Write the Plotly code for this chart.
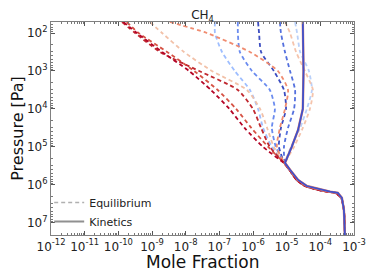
import plotly.graph_objects as go

# ---------------- data ----------------
# log10 pressure [Pa] of the upper (diverging) part of each equilibrium profile
log_p_upper = [1.71, 2.0, 2.5, 3.0, 3.5, 4.0, 4.5, 5.0, 5.45]
# shared deep part (all profiles converge)
log_p_lower = [5.6, 5.87, 6.03, 6.1, 6.18, 6.21, 6.34, 6.66, 7.32]
log_x_eq_lower = [-4.92, -4.70, -4.45, -4.20, -3.80, -3.55, -3.38, -3.30, -3.27]

# equilibrium CH4 mole fraction profiles (log10), upper part
eq_dark_red   = [-9.85, -9.45, -8.70, -7.90, -7.25, -6.70, -6.25, -5.70, -5.05]
eq_red2       = [-9.89, -9.50, -8.76, -7.60, -6.45, -6.00, -5.76, -5.50, -5.05]
eq_red        = [-9.75, -9.40, -8.55, -7.75, -7.05, -6.50, -6.05, -5.55, -5.05]
eq_salmon_l   = [-9.06, -8.70, -8.05, -7.22, -6.18, -5.79, -5.58, -5.38, -5.05]
eq_orange     = [-8.47, -7.37, -6.09, -5.26, -4.96, -5.05, -5.20, -5.29, -5.05]
eq_lightblue  = [-7.13, -7.13, -6.92, -6.54, -6.09, -5.85, -5.70, -5.44, -5.05]
eq_midblue    = [-6.45, -6.45, -6.39, -6.03, -5.50, -5.35, -5.44, -5.32, -5.05]
eq_darkblue   = [-5.85, -5.82, -5.76, -5.38, -5.08, -5.02, -5.17, -5.23, -5.05]
eq_blue       = [-5.20, -5.17, -5.05, -4.90, -4.75, -4.78, -4.96, -5.08, -5.05]
eq_lightblue2 = [-4.75, -4.69, -4.60, -4.34, -4.25, -4.40, -4.60, -4.87, -5.05]
eq_salmon_r   = [-5.05, -4.90, -4.72, -4.46, -4.22, -4.31, -4.52, -4.78, -5.05]

eq_series = [eq_lightblue2, eq_blue, eq_darkblue, eq_midblue, eq_lightblue,
             eq_salmon_r, eq_salmon_l, eq_orange, eq_red, eq_red2, eq_dark_red]
eq_colors = ["#b9d0f9", "#5470de", "#3b4cc0", "#6a8bef", "#9ebeff",
             "#f5c4ac", "#f2c1a8", "#f08c70", "#d65244", "#c0282f", "#b40426"]

# kinetics profile (log10)
log_p_kin = [1.71, 3.0, 4.0, 4.55, 5.0, 5.42, 5.6, 5.87, 6.03, 6.1, 6.18, 6.21, 6.34, 6.66, 7.32]
log_x_kin = [-4.52, -4.50, -4.52, -4.66, -4.85, -5.05, -4.90, -4.66, -4.40, -4.10, -3.71, -3.48, -3.36, -3.30, -3.27]

x_tick_exps = [-12, -11, -10, -9, -8, -7, -6, -5, -4, -3]
y_tick_exps = [2, 3, 4, 5, 6, 7]
x_range = [-12, -3]
y_range = [7.32, 1.71]

# ---------------- figure ----------------
fig = go.Figure()

for lx, col in zip(eq_series, eq_colors):
    xs = [10 ** v for v in lx + log_x_eq_lower]
    ps = [10 ** v for v in log_p_upper + log_p_lower]
    fig.add_trace(go.Scatter(
        x=xs, y=ps, mode="lines", showlegend=False,
        line=dict(color=col, width=1.8, dash="4px,3px", shape="spline", smoothing=0.6),
        hoverinfo="skip"))

fig.add_trace(go.Scatter(
    x=[10 ** v for v in log_x_kin], y=[10 ** v for v in log_p_kin],
    mode="lines", showlegend=False,
    line=dict(color="#e08070", width=2.4), hoverinfo="skip"))
fig.add_trace(go.Scatter(
    x=[10 ** v for v in log_x_kin], y=[10 ** v for v in log_p_kin],
    mode="lines", showlegend=False,
    line=dict(color="#3f51cc", width=1.8), hoverinfo="skip"))

# legend proxies
fig.add_trace(go.Scatter(x=[None], y=[None], mode="lines", name="Equilibrium",
                         line=dict(color="#b0b0b0", width=1.5, dash="4px,3px")))
fig.add_trace(go.Scatter(x=[None], y=[None], mode="lines", name="Kinetics",
                         line=dict(color="#909090", width=2)))

font_family = "DejaVu Sans"
axis_common = dict(
    type="log", showgrid=False, zeroline=False, automargin=False,
    showline=True, linecolor="#808080", linewidth=1.2, mirror="allticks",
    ticks="inside", ticklen=4, tickcolor="#555555",
    tickfont=dict(family=font_family, size=12, color="#222222"),
    minor=dict(ticks="inside", ticklen=2, dtick="D1", tickcolor="#777777"),
)

# the page body has an 8px margin, so the figure is 8px smaller and offset
fig.update_layout(
    width=366, height=272,
    margin=dict(l=43, r=20, t=14, b=45),
    paper_bgcolor="white", plot_bgcolor="white",
    title=dict(text="CH<sub>4</sub>", x=0.5, xref="paper", xanchor="center",
               y=0.99, yanchor="top", yref="container",
               font=dict(family=font_family, size=12, color="#222222")),
    xaxis=dict(
        **axis_common, range=x_range,
        tickvals=[10 ** e for e in x_tick_exps],
        ticktext=[f"10<sup>{e}</sup>" for e in x_tick_exps],
    ),
    yaxis=dict(
        **axis_common, range=y_range,
        tickvals=[10 ** e for e in y_tick_exps],
        ticktext=[f"10<sup>{e}</sup>" for e in y_tick_exps],
        title=dict(text="Pressure [Pa]", standoff=0,
                   font=dict(family=font_family, size=16, color="#111111")),
    ),
    annotations=[dict(text="Mole Fraction", xref="paper", yref="paper",
                      x=0.5, y=-0.125, xanchor="center", yanchor="middle",
                      showarrow=False,
                      font=dict(family=font_family, size=17, color="#111111"))],
    legend=dict(x=-0.006, y=-0.005, xanchor="left", yanchor="bottom",
                bgcolor="rgba(0,0,0,0)", borderwidth=0,
                font=dict(family=font_family, size=11, color="#222222"),
                itemwidth=30, tracegroupgap=0),
    showlegend=True,
)

fig.write_html("out.html")
